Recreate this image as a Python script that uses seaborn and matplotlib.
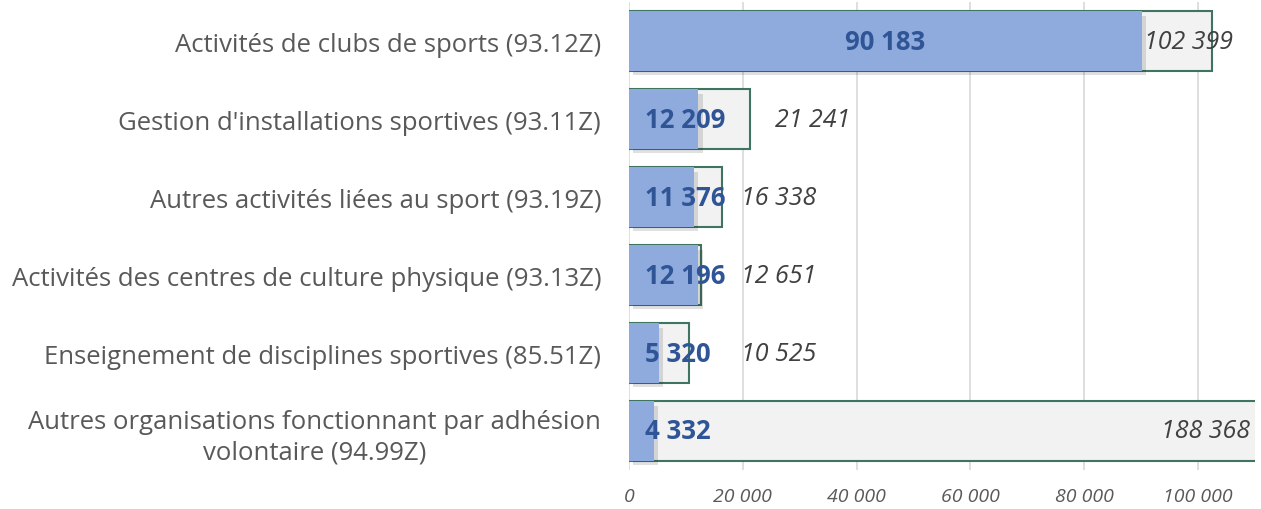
import matplotlib
matplotlib.use("Agg")
import matplotlib.pyplot as plt
import matplotlib.patheffects as pe
import seaborn as sns
import pandas as pd

categories = [
    "Activités de clubs de sports (93.12Z)",
    "Gestion d'installations sportives (93.11Z)",
    "Autres activités liées au sport (93.19Z)",
    "Activités des centres de culture physique (93.13Z)",
    "Enseignement de disciplines sportives (85.51Z)",
    "Autres organisations fonctionnant par adhésion\nvolontaire (94.99Z)",
]
inner_values = [90183, 12209, 11376, 12196, 5320, 4332]
total_values = [102399, 21241, 16338, 12651, 10525, 188368]
xticks = [0, 20000, 40000, 60000, 80000, 100000]

df = pd.DataFrame({"cat": categories, "inner": inner_values, "total": total_values})

sns.set_theme(style="white")
plt.rcParams["font.family"] = ["Open Sans", "DejaVu Sans"]

fig = plt.figure(figsize=(12.61, 5.10), dpi=100)
ax = fig.add_axes([0.4988, 0.0765, 0.4964, 0.9175])

def fmt(v):
    return f"{v:,}".replace(",", " ")

XMAX = 110000
ax.set_xlim(0, XMAX)
ax.set_xticks(xticks)
for t in xticks:
    ax.axvline(t, color="#D9D9D9", lw=1.2, zorder=0)

sns.barplot(data=df, y="cat", x="total", orient="h", color="#F2F2F2",
            edgecolor="#3F7560", linewidth=1.5, width=0.78, ax=ax, zorder=2)
n_total = len(ax.patches)
sns.barplot(data=df, y="cat", x="inner", orient="h", color="#8FAADC",
            width=0.76, ax=ax, zorder=3, saturation=1)
for p in ax.patches[:n_total]:
    p.set_facecolor("#F2F2F2")
for p in ax.patches[n_total:]:
    p.set_linewidth(0)
    p.set_path_effects([pe.SimplePatchShadow(offset=(3, -3), shadow_rgbFace="#000000", alpha=0.12), pe.Normal()])

ax.set_ylim(5.5, -0.5)
ax.set_xlabel("")
ax.set_ylabel("")
for s in ax.spines.values():
    s.set_visible(False)

ax.set_xticklabels([fmt(t) for t in xticks], fontstyle="italic", color="#595959", fontsize=14)
ax.tick_params(axis="x", length=0, pad=12)
ax.tick_params(axis="y", length=0, pad=20)
for lab in ax.get_yticklabels():
    lab.set_fontsize(18.5)
    lab.set_color("#595959")
    lab.set_multialignment("center")
    lab.set_linespacing(1.3)

# inner value labels
for i, v in enumerate(inner_values):
    if i == 0:
        ax.text(v / 2, i, fmt(v), ha="center", va="center", fontsize=18.5,
                fontweight="bold", color="#2F5597", zorder=5)
    else:
        ax.text(2800, i, fmt(v), ha="left", va="center", fontsize=18.5,
                fontweight="bold", color="#2F5597", zorder=5)

# total value labels
for i, v in enumerate(total_values):
    if v > XMAX:
        ax.text(XMAX - 800, i, fmt(v), ha="right", va="center", fontsize=18, fontstyle="italic",
                color="#404040", zorder=5)
    elif i == 0:
        ax.text(v + 3700, i, fmt(v), ha="right", va="center", fontsize=18, fontstyle="italic",
                color="#404040", zorder=5)
    else:
        ax.text(v + 4500 if v > 19000 else 19700, i, fmt(v), ha="left", va="center",
                fontsize=18, fontstyle="italic", color="#404040", zorder=5)

fig.savefig("out.png", dpi=100)
